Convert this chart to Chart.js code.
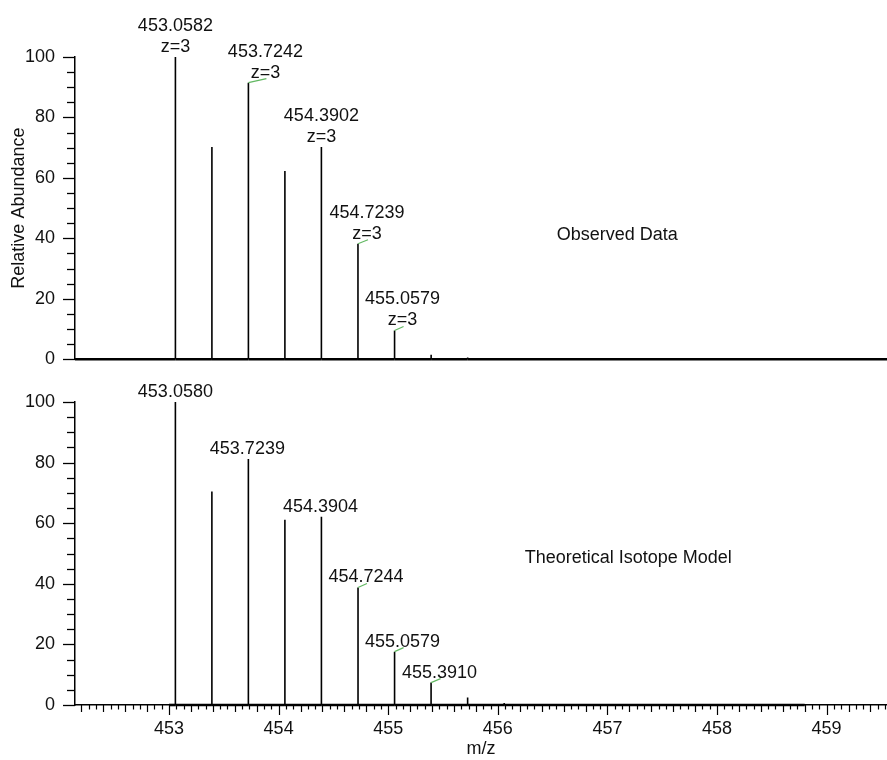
<!DOCTYPE html>
<html>
<head>
<meta charset="utf-8">
<script src="https://cdn.jsdelivr.net/npm/chart.js@4.4.0/dist/chart.umd.min.js"></script>
<style>
  body { margin: 0; background: #fff; }
  #wrap { position: relative; width: 887px; height: 760px; }
  canvas { position: absolute; left: 0; }
  #obsChart { top: 0; }
  #theoChart { top: 365px; }
</style>
</head>
<body>
<div id="wrap">
  <canvas id="obsChart" width="887" height="382"></canvas>
  <canvas id="theoChart" width="887" height="395"></canvas>
</div>
<script>
// m/z range shown on both panels
const mzMin = 452.142;
const mzMax = 459.551;

// Observed Data (top panel)
const obsMz = [453.0582, 453.3912, 453.7242, 454.0572, 454.3902, 454.7239, 455.0579, 455.3915, 455.7250];
const obsAbundance = [100, 70.2, 91.5, 62.3, 70.2, 38.2, 9.5, 1.5, 0.6];
const obsLabels = [['453.0582', 'z=3'], null, ['453.7242', 'z=3'], null, ['454.3902', 'z=3'],
                   ['454.7239', 'z=3'], ['455.0579', 'z=3'], null, null];
const obsBaseline = [452.142, 459.551];

// Theoretical Isotope Model (bottom panel)
const theoMz = [453.0580, 453.3910, 453.7239, 454.0572, 454.3904, 454.7244, 455.0579, 455.3910, 455.7245, 456.0580];
const theoAbundance = [100, 70.5, 81.2, 61.1, 62.1, 38.8, 17.6, 7.4, 2.5, 0.7];
const theoLabels = [['453.0580'], null, ['453.7239'], null, ['454.3904'], ['454.7244'],
                    ['455.0579'], ['455.3910'], null, null];
const theoBaseline = [453.0, 458.8];

// tick labels
const yTicks = [0, 20, 40, 60, 80, 100];
const xTicks = [453, 454, 455, 456, 457, 458, 459];

const FONT = '"Liberation Sans", Arial, Helvetica, sans-serif';
const font = { family: FONT, size: 18 };
const ink = '#111';

// builds the stick spectrum as one polyline along the baseline
function stickPoints(mz, ab, base) {
    const pts = [{ x: base[0], y: 0 }];
    mz.forEach((m, i) => {
        pts.push({ x: m, y: 0 }, { x: m, y: ab[i] }, { x: m, y: 0 });
    });
    pts.push({ x: base[1], y: 0 });
    return pts;
}

// draws minor axis ticks, peak annotations and panel caption
const spectrumDeco = {
    id: 'spectrumDeco',
    afterDraw(chart, args, opts) {
        const { ctx, chartArea: a, scales: { x, y } } = chart;
        ctx.save();
        ctx.strokeStyle = '#000';
        ctx.lineWidth = 1.3;
        for (let v = 0; v <= 100; v += 5) {
            const py = Math.round(y.getPixelForValue(v)) + 0.5;
            const len = v % 20 === 0 ? 12 : 8;
            ctx.beginPath();
            ctx.moveTo(a.left - len, py);
            ctx.lineTo(a.left, py);
            ctx.stroke();
        }
        if (opts.xTicks) {
            ctx.lineWidth = 1.2;
            for (let k = Math.ceil(x.min * 15); k <= Math.floor(x.max * 15); k++) {
                const px = Math.round(x.getPixelForValue(k / 15)) + 0.5;
                const len = k % 15 === 0 ? 10 : (k % 3 === 0 ? 7 : 4.5);
                ctx.beginPath();
                ctx.moveTo(px, a.bottom);
                ctx.lineTo(px, a.bottom + len);
                ctx.stroke();
            }
        }
        // peak labels
        ctx.font = '18px ' + FONT;
        ctx.fillStyle = ink;
        ctx.textAlign = 'center';
        ctx.textBaseline = 'alphabetic';
        opts.labels.forEach((lines, i) => {
            if (!lines) return;
            const px = x.getPixelForValue(opts.mz[i]);
            const py = y.getPixelForValue(opts.ab[i]);
            const cx = px + opts.shift[i];
            if (opts.shift[i] > 3) {
                ctx.strokeStyle = '#62b862';
                ctx.lineWidth = 1.2;
                ctx.beginPath();
                ctx.moveTo(px, py);
                ctx.lineTo(cx + 1, py - 4);
                ctx.stroke();
            }
            lines.slice().reverse().forEach((t, j) => ctx.fillText(t, cx, py - 5 - j * 21));
        });
        // caption
        ctx.textAlign = 'center';
        ctx.fillText(opts.caption.text, x.getPixelForValue(opts.caption.x), y.getPixelForValue(opts.caption.y));
        ctx.restore();
    }
};

function makeChart(id, mz, ab, base, labels, cfg) {
    return new Chart(document.getElementById(id).getContext('2d'), {
        type: 'line',
        data: {
            datasets: [{
                data: stickPoints(mz, ab, base),
                borderColor: '#000',
                borderWidth: 2.5,
                pointRadius: 0,
                tension: 0,
                clip: false,
                borderCapStyle: 'butt',
                segment: {
                    borderWidth: c => (c.p0.parsed.y === 0 && c.p1.parsed.y === 0) ? 2.6 : 1.6
                }
            }]
        },
        options: {
            responsive: false,
            devicePixelRatio: 1,
            animation: false,
            events: [],
            layout: { padding: cfg.padding },
            scales: {
                x: {
                    type: 'linear',
                    min: mzMin,
                    max: mzMax,
                    display: cfg.showX,
                    afterBuildTicks: s => { s.ticks = xTicks.map(v => ({ value: v })); },
                    afterFit: s => { s.height = cfg.showX ? 55 : 0; },
                    grid: { display: false },
                    border: { display: true, color: '#000', width: 1.5 },
                    ticks: { padding: 5, maxRotation: 0, autoSkip: false, color: ink, font: font },
                    title: { display: true, text: 'm/z', color: ink, font: font, padding: { top: 0, bottom: 0 } }
                },
                y: {
                    min: 0,
                    max: 100,
                    afterBuildTicks: s => { s.ticks = yTicks.map(v => ({ value: v })); },
                    afterFit: s => { s.width = 75; },
                    grid: { display: false },
                    border: { display: true, color: '#000', width: 1.5 },
                    ticks: { padding: 12, color: ink, font: font },
                    title: {
                        display: cfg.yTitle,
                        text: 'Relative Abundance',
                        color: ink,
                        font: font,
                        padding: { top: 8, bottom: 0 }
                    }
                }
            },
            plugins: {
                legend: { display: false },
                tooltip: { enabled: false },
                spectrumDeco: {
                    xTicks: cfg.showX,
                    mz: mz,
                    ab: ab,
                    labels: labels,
                    shift: cfg.shift,
                    caption: cfg.caption
                }
            }
        },
        plugins: [spectrumDeco]
    });
}

makeChart('obsChart', obsMz, obsAbundance, obsBaseline, obsLabels, {
    padding: { top: 57, bottom: 0, left: 0, right: 0 },
    showX: false,
    yTitle: true,
    shift: [0, 0, 17, 0, 0, 9, 8, 0, 0],
    caption: { text: 'Observed Data', x: 457.09, y: 39.5 }
});

makeChart('theoChart', theoMz, theoAbundance, theoBaseline, theoLabels, {
    padding: { top: 37, bottom: 0, left: 0, right: 0 },
    showX: true,
    yTitle: false,
    shift: [0, 0, -1, 0, -1, 8, 8, 8.5, 0, 0],
    caption: { text: 'Theoretical Isotope Model', x: 457.19, y: 46.9 }
});
</script>
</body>
</html>
